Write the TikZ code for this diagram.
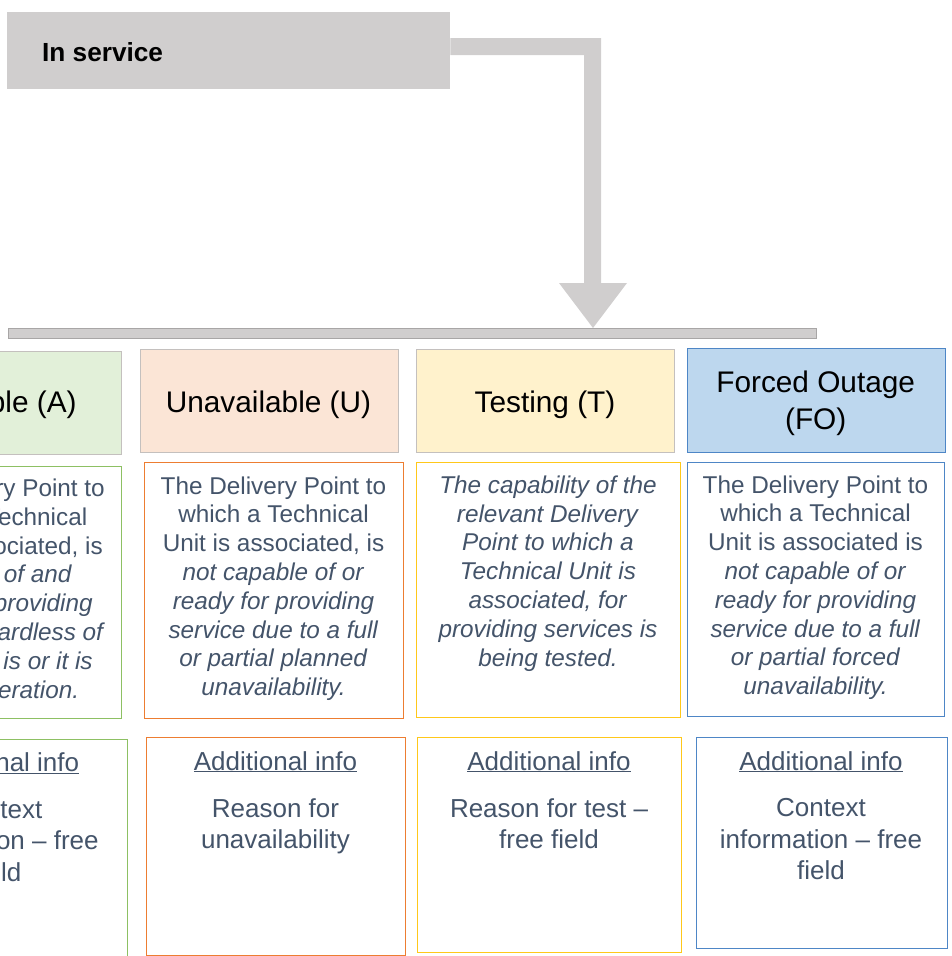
\documentclass[tikz,border=0pt]{standalone}
\usepackage{fontspec}
\setmainfont{Liberation Sans}
\usetikzlibrary{calc}
\definecolor{svcgray}{HTML}{D0CECE}
\definecolor{barline}{HTML}{A8A6A6}
\definecolor{hdrline}{HTML}{C4C0BE}
\definecolor{fillA}{HTML}{E2F0D9}
\definecolor{fillU}{HTML}{FBE5D6}
\definecolor{fillT}{HTML}{FFF2CC}
\definecolor{fillF}{HTML}{BDD7EE}
\definecolor{lineA}{HTML}{8DC063}
\definecolor{lineU}{HTML}{ED7D31}
\definecolor{lineT}{HTML}{FFC81A}
\definecolor{lineF}{HTML}{4E86C6}
\definecolor{txt}{HTML}{44546A}
\newcommand{\mkbox}[6]{%
  \node[#1, anchor=north west, inner sep=0pt,
        minimum width={((#5)-(#3))*1pt}, minimum height={((#6)-(#4))*1pt}] (#2) at (#3,#4) {};}
\begin{document}
\begin{tikzpicture}[x=1pt,y=-1pt,
  hdrbox/.style={draw=hdrline, line width=1.4pt},
  descbox/.style={draw=#1, line width=1.4pt, fill=white},
  hdrtext/.style={align=center, inner sep=0pt, text=black, font=\fontsize{29.8}{36.5}\selectfont},
  desctext/.style={align=center, inner sep=0pt, text=txt, font=\fontsize{24.3}{28.8}\selectfont},
  addtext/.style={align=center, inner sep=0pt, text=txt, font=\fontsize{26}{31.3}\selectfont}]
\useasboundingbox (0,0) rectangle (951,956);
\clip (0,0) rectangle (951,956);

% In service box
\mkbox{fill=svcgray}{insvc}{7}{12}{450}{89}
\node[anchor=base west, inner sep=0pt, font=\fontsize{26.2}{30}\selectfont\bfseries] (insvctxt) at (42,61) {In service};

% bar
\mkbox{fill=svcgray, draw=barline, line width=1.4pt}{bar}{8}{328}{816}{338}

% arrow connector from In service to bar
\fill[svcgray] ($(insvc.north east)+(0,26)$) -- (601,38) -- (601,283) -- (627,283)
  -- ($(bar.north west)+(585,0)$) -- (559,283) -- (584,283) -- (584,55)
  -- ($(insvc.north east)+(0,43)$) -- cycle;

% headers
\mkbox{hdrbox, fill=fillA}{hA}{-136}{350.5}{121}{454}
\mkbox{hdrbox, fill=fillU}{hU}{140}{349}{398}{452}
\mkbox{hdrbox, fill=fillT}{hT}{416}{349}{674}{452}
\mkbox{draw=lineF, line width=1.4pt, fill=fillF}{hF}{687}{348}{944.5}{452}
\node[hdrtext, anchor=base] (hAt) at (-7.5,412) {Available (A)};
\node[hdrtext, anchor=base] (hUt) at (268.5,412) {Unavailable (U)};
\node[hdrtext, anchor=base] (hTt) at (545,412) {Testing (T)};
\node[hdrtext, anchor=base] (hFt) at (815.7,429.2) {Forced Outage\\(FO)};

% descriptions (anchor base = baseline of last line)
\mkbox{descbox=lineA}{dA}{-138}{466}{121}{718}
\mkbox{descbox=lineU}{dU}{144}{462}{403}{718}
\mkbox{descbox=lineT}{dT}{416}{462}{680}{717}
\mkbox{descbox=lineF}{dF}{687}{462}{944}{716}
\node[desctext, anchor=base] (dAt) at (-8,698.1) {The Delivery Point to\\which a Technical\\Unit is associated, is\\\textit{capable of and}\\\textit{ready for providing}\\\textit{service regardless of}\\\textit{whether it is or it is}\\\textit{not in operation.}};
\node[desctext, anchor=base] (dUt) at (273.5,695.6) {The Delivery Point to\\which a Technical\\Unit is associated, is\\\textit{not capable of or}\\\textit{ready for providing}\\\textit{service due to a full}\\\textit{or partial planned}\\\textit{unavailability.}};
\node[desctext, anchor=base] (dTt) at (548,666.1) {\textit{The capability of the}\\\textit{relevant Delivery}\\\textit{Point to which a}\\\textit{Technical Unit is}\\\textit{associated, for}\\\textit{providing services is}\\\textit{being tested.}};
\node[desctext, anchor=base] (dFt) at (815.5,694.6) {The Delivery Point to\\which a Technical\\Unit is associated is\\\textit{not capable of or}\\\textit{ready for providing}\\\textit{service due to a full}\\\textit{or partial forced}\\\textit{unavailability.}};

% additional info
\mkbox{descbox=lineA}{aA}{-132}{739}{127}{962}
\mkbox{descbox=lineU}{aU}{146}{737}{405}{955}
\mkbox{descbox=lineT}{aT}{417}{737}{680.7}{952}
\mkbox{descbox=lineF}{aF}{695.7}{737}{946.7}{948}
\node[addtext, anchor=base] (aAh) at (-2.5,771.5) {\underline{Additional info}};
\node[addtext, anchor=base] (aUh) at (275.5,770) {\underline{Additional info}};
\node[addtext, anchor=base] (aTh) at (549,770) {\underline{Additional info}};
\node[addtext, anchor=base] (aFh) at (821,770) {\underline{Additional info}};
\node[addtext, anchor=base] (aAt) at (-2.5,881.1) {Context\\information -- free\\field};
\node[addtext, anchor=base] (aUt) at (275.5,848.6) {Reason for\\unavailability};
\node[addtext, anchor=base] (aTt) at (549,848.6) {Reason for test --\\free field};
\node[addtext, anchor=base] (aFt) at (821,879.3) {Context\\information -- free\\field};
\end{tikzpicture}
\end{document}
